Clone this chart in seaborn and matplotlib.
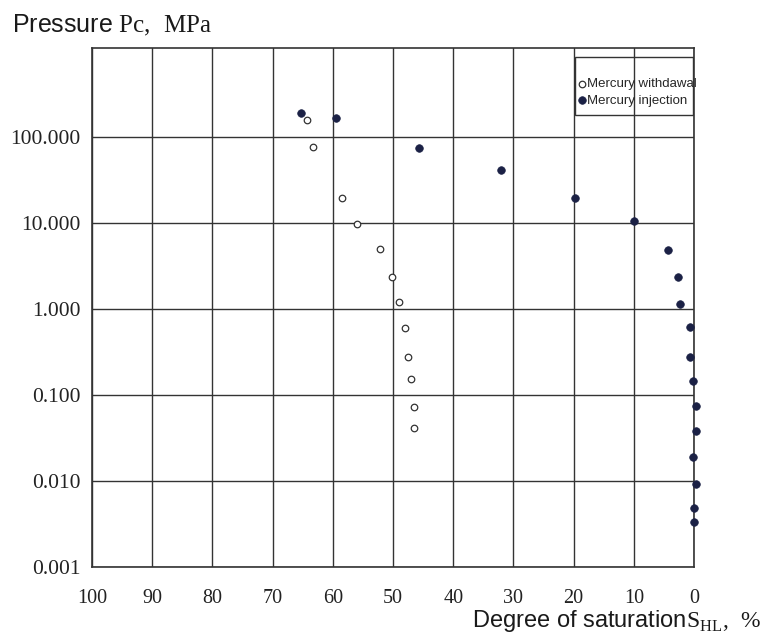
import pandas as pd
import matplotlib
matplotlib.use("Agg")
import matplotlib.pyplot as plt
from matplotlib.patches import Rectangle
from matplotlib.ticker import NullLocator
import seaborn as sns

# values
withdrawal_sat = [64.3, 63.3, 58.5, 55.9, 52.2, 50.1, 49.0, 48.0, 47.5, 47.0, 46.5, 46.5]
withdrawal_p = [158, 76, 19.5, 9.8, 5.0, 2.36, 1.2, 0.60, 0.277, 0.153, 0.073, 0.041]

injection_sat = [65.2, 59.5, 45.6, 32.1, 19.8, 9.9, 4.3, 2.7, 2.3, 0.7, 0.7, 0.1,
                 -0.3, -0.3, 0.1, -0.4, 0.0, 0.05]
injection_p = [192, 166, 75, 41, 19.4, 10.5, 4.85, 2.35, 1.15, 0.61, 0.277, 0.146,
               0.075, 0.038, 0.019, 0.0092, 0.0048, 0.0033]

x_ticks = [100, 90, 80, 70, 60, 50, 40, 30, 20, 10, 0]
y_ticks = [0.001, 0.01, 0.1, 1, 10, 100]
y_tick_labels = ["0.001", "0.010", "0.100", "1.000", "10.000", "100.000"]

sns.set_style("white")
plt.rcParams['font.family'] = ['Liberation Sans', 'DejaVu Sans']
plt.rcParams['mathtext.fontset'] = 'custom'
plt.rcParams['mathtext.rm'] = 'Liberation Serif'

line_col = '#333333'
dot_col = '#1b2145'

fig = plt.figure(figsize=(7.68, 6.35), dpi=100)
ax = fig.add_axes([92 / 768, 68 / 635, 602 / 768, 519 / 635])

df_w = pd.DataFrame({'sat': withdrawal_sat, 'p': withdrawal_p})
df_i = pd.DataFrame({'sat': injection_sat, 'p': injection_p})

sns.scatterplot(data=df_w, x='sat', y='p', ax=ax, marker='o', s=22,
                color='white', edgecolor=line_col, linewidth=0.9,
                label='Mercury withdawal', zorder=3, clip_on=False)
sns.scatterplot(data=df_i, x='sat', y='p', ax=ax, marker='o', s=30,
                color=dot_col, edgecolor=dot_col, linewidth=0.5,
                label='Mercury injection', zorder=3, clip_on=False)

ax.set_yscale('log')
ax.set_xlim(100, 0)
ax.set_ylim(1e-3, 10 ** 3.035)
ax.set_xticks(x_ticks)
ax.set_xticklabels([str(v) for v in x_ticks], fontfamily='Liberation Serif',
                   fontsize=14.5, color='#222222')
ax.set_yticks(y_ticks)
ax.set_yticklabels(y_tick_labels, fontfamily='Liberation Serif',
                   fontsize=15.5, color='#222222')
ax.yaxis.set_minor_locator(NullLocator())
ax.tick_params(axis='x', length=0, pad=16)
ax.tick_params(axis='y', length=0, pad=8)
ax.set_xlabel('')
ax.set_ylabel('')

ax.grid(True, color=line_col, linewidth=1.0)
for sp in ax.spines.values():
    sp.set_color(line_col)
    sp.set_linewidth(1.2)

# legend box drawn as a plain frame, grid shows through it
ax.add_patch(Rectangle((0.8023, 0.8709), 0.196, 0.1118, transform=ax.transAxes,
                       fill=False, edgecolor=line_col, linewidth=1.0, zorder=4))
ax.legend(loc='center left', bbox_to_anchor=(0.8023, 0.9143), borderaxespad=0,
          frameon=False, fontsize=9.5, borderpad=0.2, handlelength=0.6,
          handletextpad=0.1, labelspacing=0.3)

fig.text(12 / 768, (635 - 32) / 635, r"Pressure $\mathrm{Pc,\ MPa}$",
         fontsize=18, ha='left', va='baseline', color='#1a1a1a')
fig.text(472 / 768, 8 / 635,
         r"Degree of saturation$\mathrm{S}_{\mathrm{HL}}\mathrm{,\ \%}$",
         fontsize=17, ha='left', va='baseline', color='#1a1a1a')

fig.savefig('out.png', dpi=100)
